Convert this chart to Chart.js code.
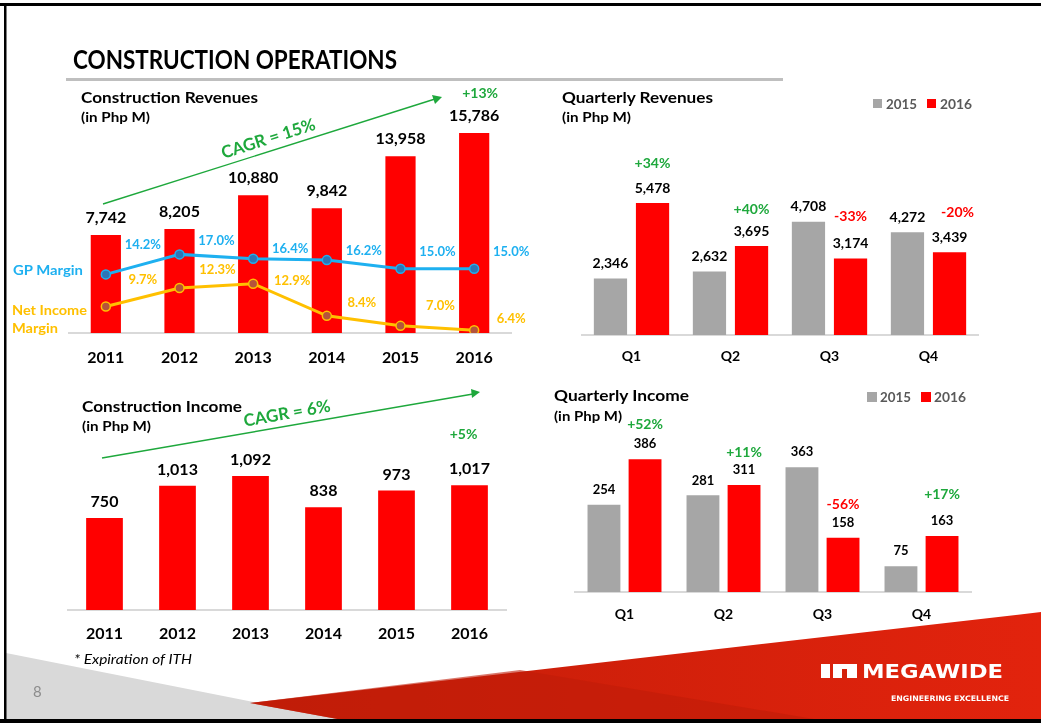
<!DOCTYPE html>
<html>
<head>
<meta charset="utf-8">
<script src="https://cdn.jsdelivr.net/npm/chart.js@4.4.1/dist/chart.umd.min.js"></script>
<style>
html, body { margin: 0; padding: 0; background: #fff; }
body { width: 1041px; height: 723px; position: relative; overflow: hidden; font-family: Lato, "Open Sans", sans-serif; }
canvas, svg { position: absolute; left: 0; top: 0; }
</style>
</head>
<body>
<svg id="bg" width="1041" height="723">
  <defs>
    <linearGradient id="redGrad" x1="0" x2="1" y1="0" y2="0">
      <stop offset="0" stop-color="#c21d08"/>
      <stop offset="1" stop-color="#e2230d"/>
    </linearGradient>
  </defs>
  <polygon points="6,653 345,720 6,720" fill="#d9d9d9"/>
  <polygon points="250,703 1041,612 1041,720 343,720" fill="url(#redGrad)"/>
  <polygon points="250,703 520,670 820,720 343,720" fill="#bf1c08" opacity="0.6"/>
  <rect x="66" y="78" width="717" height="3" fill="#bfbfbf"/>
  <rect x="0" y="3" width="1041" height="3" fill="#000"/>
  <rect x="4" y="3" width="2.5" height="720" fill="#000"/>
  <rect x="0" y="719" width="1041" height="4" fill="#000"/>
</svg>

<canvas id="revChart"></canvas>
<canvas id="qRevChart"></canvas>
<canvas id="incChart"></canvas>
<canvas id="qIncChart"></canvas>

<svg id="fg" width="1041" height="723" font-family="Lato, 'Open Sans', sans-serif">
  <text x="73" y="69" font-size="26" font-weight="bold" textLength="324" lengthAdjust="spacingAndGlyphs">CONSTRUCTION OPERATIONS</text>

  <text x="81" y="103" font-size="16" font-weight="bold" textLength="177" lengthAdjust="spacingAndGlyphs">Construction Revenues</text>
  <text x="81" y="122" font-size="13" font-weight="bold" textLength="69" lengthAdjust="spacingAndGlyphs">(in Php M)</text>
  <text x="13" y="275" font-size="14" font-weight="bold" fill="#1eb0f0" textLength="70" lengthAdjust="spacingAndGlyphs">GP Margin</text>
  <text x="12" y="315" font-size="14" font-weight="bold" fill="#ffc000" textLength="75" lengthAdjust="spacingAndGlyphs">Net Income</text>
  <text x="12" y="333" font-size="14" font-weight="bold" fill="#ffc000" textLength="46" lengthAdjust="spacingAndGlyphs">Margin</text>

  <text x="562" y="103" font-size="16" font-weight="bold" textLength="151" lengthAdjust="spacingAndGlyphs">Quarterly Revenues</text>
  <text x="562" y="122" font-size="13" font-weight="bold" textLength="69" lengthAdjust="spacingAndGlyphs">(in Php M)</text>
  <rect x="873" y="99" width="9" height="9" fill="#a6a6a6"/>
  <text x="886" y="109" font-size="13" font-weight="bold" fill="#595959" textLength="31" lengthAdjust="spacingAndGlyphs" class="lg15">2015</text>
  <rect x="927" y="99" width="9" height="9" fill="#ff0000"/>
  <text x="940" y="109" font-size="13" font-weight="bold" fill="#595959" textLength="32" lengthAdjust="spacingAndGlyphs" class="lg16">2016</text>

  <text x="82" y="412" font-size="16" font-weight="bold" textLength="160" lengthAdjust="spacingAndGlyphs">Construction Income</text>
  <text x="82" y="431" font-size="13" font-weight="bold" textLength="69" lengthAdjust="spacingAndGlyphs">(in Php M)</text>

  <text x="554" y="401" font-size="16" font-weight="bold" textLength="135" lengthAdjust="spacingAndGlyphs">Quarterly Income</text>
  <text x="554" y="421" font-size="13" font-weight="bold" textLength="68" lengthAdjust="spacingAndGlyphs">(in Php M)</text>
  <rect x="867" y="392" width="10" height="10" fill="#a6a6a6"/>
  <text x="880" y="402" font-size="13" font-weight="bold" fill="#595959" textLength="31" lengthAdjust="spacingAndGlyphs">2015</text>
  <rect x="921" y="392" width="10" height="10" fill="#ff0000"/>
  <text x="934" y="402" font-size="13" font-weight="bold" fill="#595959" textLength="32" lengthAdjust="spacingAndGlyphs">2016</text>

  <!-- growth arrows -->
  <line x1="103" y1="204" x2="435" y2="99" stroke="#1ea83c" stroke-width="1.4"/>
  <polygon points="442,97 432,95 435,104" fill="#1ea83c"/>
  <text id="revCagr" x="270" y="144" font-size="17" font-weight="bold" fill="#1ea83c" text-anchor="middle" transform="rotate(-17.6 270 144)"></text>
  <line x1="102" y1="458" x2="473" y2="394" stroke="#1ea83c" stroke-width="1.4"/>
  <polygon points="480,392 471,389 472,398" fill="#1ea83c"/>
  <text id="incCagr" x="288" y="419" font-size="17" font-weight="bold" fill="#1ea83c" text-anchor="middle" transform="rotate(-10 288 419)"></text>

  <text x="74" y="664" font-size="14" font-style="italic" textLength="118" lengthAdjust="spacingAndGlyphs">* Expiration of ITH</text>
  <text x="33" y="697" font-size="15" fill="#8c8c8c">8</text>

  <!-- logo -->
  <rect x="821" y="664" width="9" height="14" fill="#fff"/>
  <rect x="833" y="664" width="24" height="14" fill="#fff"/>
  <rect x="842" y="669" width="5" height="9" fill="#d4210b"/>
  <text x="862" y="678" font-size="19" font-weight="bold" fill="#fff" font-family="'DejaVu Sans', sans-serif" textLength="141" lengthAdjust="spacingAndGlyphs">MEGAWIDE</text>
  <text x="891" y="701" font-size="7.5" font-weight="bold" fill="#fff" font-family="'DejaVu Sans', sans-serif" textLength="118" lengthAdjust="spacingAndGlyphs">ENGINEERING EXCELLENCE</text>
</svg>

<script>
// yearly figures
const years = ['2011', '2012', '2013', '2014', '2015', '2016'];
const revenues = [7742, 8205, 10880, 9842, 13958, 15786];
const gpMargin = [14.2, 17.0, 16.4, 16.2, 15.0, 15.0];
const niMargin = [9.7, 12.3, 12.9, 8.4, 7.0, 6.4];
const income = [750, 1013, 1092, 838, 973, 1017];
const revGrowth = [null, null, null, null, null, '+13%'];
const incGrowth = [null, null, null, null, null, '+5%'];
const revCagr = 'CAGR = 15%';
const incCagr = 'CAGR = 6%';

// quarterly figures
const quarters = ['Q1', 'Q2', 'Q3', 'Q4'];
const seriesNames = ['2015', '2016'];
const qRev2015 = [2346, 2632, 4708, 4272];
const qRev2016 = [5478, 3695, 3174, 3439];
const qRevChange = ['+34%', '+40%', '-33%', '-20%'];
const qInc2015 = [254, 281, 363, 75];
const qInc2016 = [386, 311, 158, 163];
const qIncChange = ['+52%', '+11%', '-56%', '+17%'];

const GREEN = '#1ea83c';
const RED = '#ff0000';
const GREY = '#a6a6a6';
const BLUE = '#1eb0f0';
const GOLD = '#ffc000';

document.getElementById('revCagr').textContent = revCagr;
document.getElementById('incCagr').textContent = incCagr;

const fmt = v => v.toLocaleString('en-US');
const pct = v => v.toFixed(1) + '%';
const changeColor = t => (t.charAt(0) === '-' ? RED : GREEN);

// labels drawn next to bars / points
const valueLabels = {
  id: 'valueLabels',
  afterDatasetsDraw(chart, args, opts) {
    const ctx = chart.ctx;
    ctx.save();
    ctx.textAlign = 'center';
    ctx.textBaseline = 'middle';
    (opts.items || []).forEach(it => {
      const meta = chart.getDatasetMeta(it.dataset);
      const ds = chart.data.datasets[it.dataset];
      ctx.font = it.font;
      meta.data.forEach((el, i) => {
        const txt = it.text ? it.text[i] : it.format(ds.data[i]);
        if (!txt) return;
        const dx = Array.isArray(it.dx) ? it.dx[i] : (it.dx || 0);
        const dy = Array.isArray(it.dy) ? it.dy[i] : it.dy;
        ctx.fillStyle = typeof it.color === 'function' ? it.color(txt) : it.color;
        ctx.fillText(txt, el.x + dx, el.y + dy);
      });
    });
    ctx.restore();
  }
};
Chart.register(valueLabels);

function place(id, box, area, tickSize, tickPad) {
  const c = document.getElementById(id);
  c.width = box.w;
  c.height = box.h;
  c.style.left = box.x + 'px';
  c.style.top = box.y + 'px';
  return {
    left: area.l - box.x,
    right: box.x + box.w - area.r,
    top: area.t - box.y,
    bottom: box.y + box.h - area.b - (2 * tickPad + tickSize * 1.2)
  };
}

function xAxis(size, pad) {
  return {
    grid: { display: false, drawTicks: false },
    border: { display: true, color: '#d9d9d9', width: 2 },
    ticks: { color: '#000', padding: pad, font: { family: 'Lato', size: size, weight: 'bold' } }
  };
}

const base = {
  responsive: false,
  animation: false,
  devicePixelRatio: 1,
  events: []
};

// Construction revenues with margins
const revPad = place('revChart', { x: 10, y: 80, w: 535, h: 305 }, { l: 69, r: 511, t: 90, b: 333 }, 16, 15);
new Chart('revChart', {
  type: 'bar',
  data: {
    labels: years,
    datasets: [
      {
        type: 'line', label: 'GP Margin', data: gpMargin, yAxisID: 'y2', order: 0,
        borderColor: BLUE, borderWidth: 3, pointRadius: 4.5,
        pointBackgroundColor: '#2e75b6', pointBorderColor: BLUE, pointBorderWidth: 1.5
      },
      {
        type: 'line', label: 'Net Income Margin', data: niMargin, yAxisID: 'y2', order: 1,
        borderColor: GOLD, borderWidth: 3, pointRadius: 4.5,
        pointBackgroundColor: '#b5533c', pointBorderColor: GOLD, pointBorderWidth: 1.5
      },
      {
        type: 'bar', label: 'Construction Revenues', data: revenues, order: 2,
        backgroundColor: RED, categoryPercentage: 1, barPercentage: 0.41
      }
    ]
  },
  options: {
    ...base,
    layout: { padding: revPad },
    plugins: {
      legend: { display: false },
      tooltip: { enabled: false },
      valueLabels: {
        items: [
          { dataset: 2, format: fmt, font: 'bold 16px Lato', color: '#000', dy: -17 },
          { dataset: 2, text: revGrowth, font: 'bold 14px Lato', color: GREEN, dx: 6, dy: -40 },
          { dataset: 0, format: pct, font: 'bold 13px Lato', color: BLUE, dx: 37, dy: [-30, -14, -10, -9, -17, -17] },
          { dataset: 1, format: pct, font: 'bold 13px Lato', color: GOLD, dx: [37, 38, 39, 35, 40, 37], dy: [-27, -18, -3, -13, -20, -11] }
        ]
      }
    },
    scales: {
      x: xAxis(16, 15),
      y: { display: false, min: 0, max: 19180 },
      y2: { display: false, min: 6, max: 40 }
    }
  }
});

// Quarterly revenues
const qRevPad = place('qRevChart', { x: 555, y: 140, w: 475, h: 240 }, { l: 582, r: 978, t: 150, b: 335 }, 14, 13);
new Chart('qRevChart', {
  type: 'bar',
  data: {
    labels: quarters,
    datasets: [
      { label: seriesNames[0], data: qRev2015, backgroundColor: GREY, categoryPercentage: 0.85, barPercentage: 0.79 },
      { label: seriesNames[1], data: qRev2016, backgroundColor: RED, categoryPercentage: 0.85, barPercentage: 0.79 }
    ]
  },
  options: {
    ...base,
    layout: { padding: qRevPad },
    plugins: {
      legend: { display: false },
      tooltip: { enabled: false },
      valueLabels: {
        items: [
          { dataset: 0, format: fmt, font: 'bold 14px Lato', color: '#000', dy: -15 },
          { dataset: 1, format: fmt, font: 'bold 14px Lato', color: '#000', dy: -15 },
          { dataset: 1, text: qRevChange, font: 'bold 14px Lato', color: changeColor, dx: [0, 0, 0, 8], dy: [-40, -37, -42, -40] }
        ]
      }
    },
    scales: {
      x: xAxis(14, 13),
      y: { display: false, min: 0, max: 7683 }
    }
  }
});

// Construction income
const incPad = place('incChart', { x: 10, y: 415, w: 535, h: 250 }, { l: 68, r: 506, t: 450, b: 610 }, 16, 14);
new Chart('incChart', {
  type: 'bar',
  data: {
    labels: years,
    datasets: [
      { label: 'Construction Income', data: income, backgroundColor: RED, categoryPercentage: 1, barPercentage: 0.503 }
    ]
  },
  options: {
    ...base,
    layout: { padding: incPad },
    plugins: {
      legend: { display: false },
      tooltip: { enabled: false },
      valueLabels: {
        items: [
          { dataset: 0, format: fmt, font: 'bold 16px Lato', color: '#000', dy: -16 },
          { dataset: 0, text: incGrowth, font: 'bold 14px Lato', color: GREEN, dx: -6, dy: -51 }
        ]
      }
    },
    scales: {
      x: xAxis(16, 14),
      y: { display: false, min: 0, max: 1304 }
    }
  }
});

// Quarterly income
const qIncPad = place('qIncChart', { x: 555, y: 405, w: 475, h: 235 }, { l: 575, r: 971, t: 430, b: 592 }, 14, 14.5);
new Chart('qIncChart', {
  type: 'bar',
  data: {
    labels: quarters,
    datasets: [
      { label: seriesNames[0], data: qInc2015, backgroundColor: GREY, categoryPercentage: 0.83, barPercentage: 0.8 },
      { label: seriesNames[1], data: qInc2016, backgroundColor: RED, categoryPercentage: 0.83, barPercentage: 0.8 }
    ]
  },
  options: {
    ...base,
    layout: { padding: qIncPad },
    plugins: {
      legend: { display: false },
      tooltip: { enabled: false },
      valueLabels: {
        items: [
          { dataset: 0, format: fmt, font: 'bold 13px Lato', color: '#000', dy: -15 },
          { dataset: 1, format: fmt, font: 'bold 13px Lato', color: '#000', dy: -15 },
          { dataset: 1, text: qIncChange, font: 'bold 14px Lato', color: changeColor, dy: [-35, -33, -33, -41] }
        ]
      }
    },
    scales: {
      x: xAxis(14, 14.5),
      y: { display: false, min: 0, max: 471 }
    }
  }
});
</script>
</body>
</html>
